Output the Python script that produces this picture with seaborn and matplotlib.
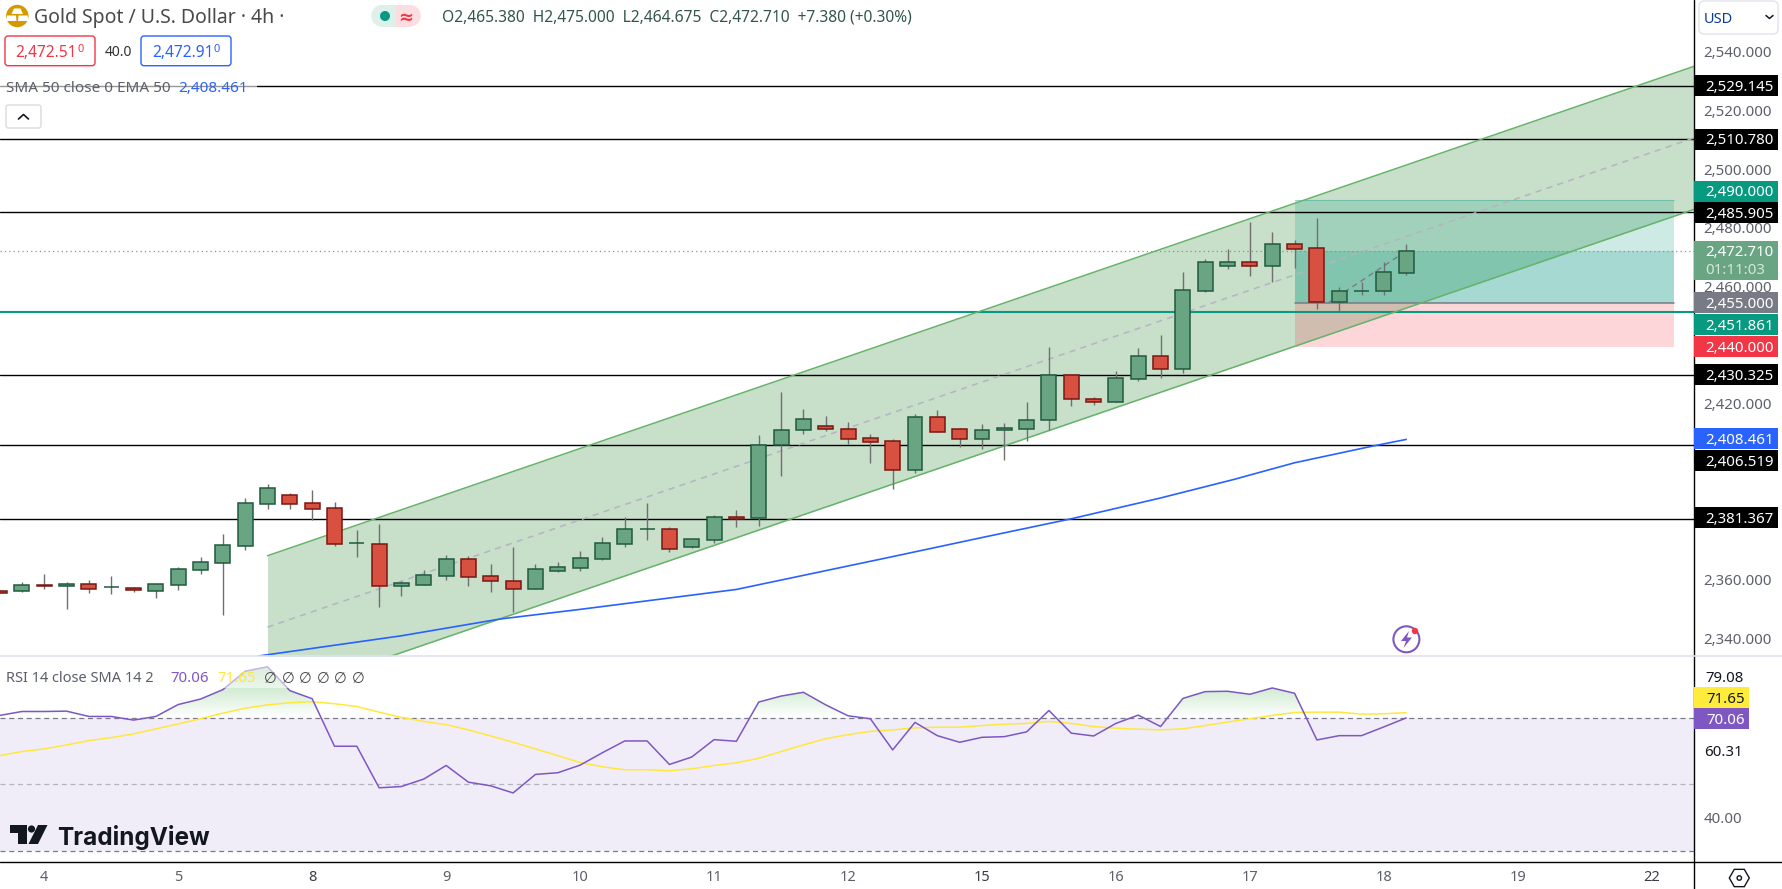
import numpy as np
import pandas as pd
import matplotlib.pyplot as plt
import seaborn as sns
from matplotlib.patches import Circle, FancyBboxPatch, Polygon, Rectangle
from matplotlib.path import Path

# candles, 4h bars
opens = [2356.7, 2356.87, 2358.8, 2358.6, 2359.03, 2358.01, 2357.67, 2356.87, 2358.92, 2364.04, 2366.42, 2372.22,
         2386.54, 2389.39, 2386.66, 2384.95, 2373.02, 2372.67, 2358.58, 2358.92, 2361.99, 2367.56, 2361.76, 2360.06,
         2357.56, 2363.7, 2364.72, 2367.79, 2372.91, 2377.8, 2377.8, 2371.88, 2374.27, 2382.0, 2381.55, 2406.45,
         2411.79, 2413.04, 2411.9, 2408.83, 2407.81, 2397.92, 2416.0, 2411.9, 2408.49, 2411.56, 2412.13, 2414.97,
         2430.32, 2422.13, 2421.34, 2429.18, 2436.8, 2432.59, 2459.2, 2467.72, 2468.86, 2467.72, 2475.0, 2473.64,
         2455.45, 2458.97, 2458.97, 2465.38]
highs = [2357.0, 2359.83, 2362.56, 2359.83, 2360.5, 2361.87, 2358.12, 2359.03, 2364.95, 2368.35, 2376.2, 2388.36,
         2393.25, 2390.18, 2391.21, 2387.11, 2377.56, 2379.61, 2360.28, 2363.92, 2369.04, 2368.7, 2365.97, 2371.77,
         2365.97, 2366.65, 2370.41, 2375.18, 2382.0, 2386.78, 2378.59, 2374.39, 2382.69, 2384.39, 2409.97, 2424.64,
         2418.84, 2416.45, 2414.4, 2410.31, 2408.61, 2417.13, 2418.5, 2412.36, 2413.72, 2413.95, 2421.22, 2439.98,
         2430.32, 2422.93, 2431.68, 2439.64, 2444.08, 2465.56, 2470.0, 2473.41, 2482.62, 2479.2, 2476.48, 2483.98,
         2460.33, 2462.15, 2468.97, 2475.0]
lows = [2356.0, 2356.42, 2357.44, 2350.62, 2356.08, 2355.74, 2356.42, 2354.37, 2357.1, 2362.56, 2348.57, 2370.74,
        2384.73, 2384.73, 2380.97, 2372.1, 2368.35, 2351.3, 2355.05, 2358.92, 2360.5, 2358.46, 2356.42, 2349.5,
        2357.56, 2363.25, 2363.59, 2367.34, 2371.77, 2374.16, 2370.07, 2371.43, 2373.14, 2378.59, 2378.93, 2395.99,
        2410.31, 2411.33, 2406.9, 2400.42, 2391.55, 2397.0, 2410.88, 2405.88, 2405.2, 2401.44, 2407.92, 2411.56,
        2419.86, 2420.32, 2421.34, 2428.39, 2429.52, 2431.12, 2458.74, 2466.59, 2464.2, 2462.15, 2466.93, 2452.94,
        2451.92, 2457.72, 2457.72, 2464.675]
closes = [2356.1, 2358.69, 2358.6, 2359.15, 2357.55, 2358.01, 2357.2, 2359.03, 2364.15, 2366.54, 2372.33, 2386.66,
          2391.77, 2386.54, 2384.84, 2372.9, 2373.02, 2358.58, 2359.37, 2362.1, 2367.56, 2361.65, 2360.28, 2357.56,
          2364.15, 2364.84, 2367.91, 2373.02, 2377.8, 2377.8, 2371.2, 2374.39, 2381.89, 2381.43, 2406.45, 2411.56,
          2415.31, 2412.13, 2408.72, 2407.47, 2397.92, 2416.0, 2410.88, 2408.49, 2411.56, 2412.24, 2414.97, 2430.32,
          2422.36, 2421.34, 2429.3, 2436.8, 2432.59, 2459.31, 2468.86, 2468.86, 2467.72, 2475.0, 2473.52, 2455.45,
          2458.97, 2458.97, 2465.45, 2472.71]

# EMA 50
ema_bars = [11.6, 18, 22.4, 26, 33, 40, 44, 48, 52, 55.3, 58, 61.5, 63]
ema_vals = [2334.6, 2341.5, 2347.2, 2350.5, 2357.3, 2368.5, 2375.0, 2381.4, 2388.5, 2394.85, 2400.5, 2406.2, 2408.461]

# RSI and its SMA
rsi_vals = [70.8, 72.0, 72.0, 72.1, 70.5, 70.5, 69.4, 70.5, 74.1, 75.75, 78.6, 84.15, 85.5, 78.3, 75.85, 61.5,
            61.5, 48.95, 49.35, 51.6, 55.7, 50.65, 49.55, 47.4, 53.0, 53.5, 55.8, 59.55, 63.1, 63.1, 56.0, 58.25,
            63.5, 63.0, 74.85, 76.65, 77.8, 74.0, 70.7, 69.8, 60.4, 68.7, 64.7, 62.7, 64.2, 64.4, 65.85, 72.3,
            65.45, 64.6, 68.4, 70.9, 67.45, 75.95, 78.0, 78.1, 77.2, 79.1, 77.5, 63.4, 64.7, 64.7, 67.35, 70.06]
sma_vals = [58.65, 59.9, 60.7, 61.9, 63.2, 64.1, 65.25, 66.75, 68.25, 69.8, 71.5, 73.0, 74.0, 74.65, 74.95, 74.35,
            73.5, 71.8, 70.2, 69.0, 68.0, 66.45, 64.6, 62.7, 60.7, 58.65, 56.6, 55.3, 54.4, 54.4, 54.1, 54.7,
            55.7, 56.5, 57.85, 59.9, 61.9, 63.8, 65.0, 66.0, 66.45, 67.05, 67.25, 67.25, 67.75, 68.15, 68.4, 69.0,
            68.4, 67.45, 66.95, 66.65, 66.45, 66.75, 67.75, 68.8, 69.8, 70.8, 71.7, 71.8, 71.8, 71.2, 71.3, 71.65]

# price levels and drawings
black_levels = [2529.145, 2510.78, 2485.905, 2430.325, 2406.519, 2381.367]
green_level = 2451.861
last_price = 2472.71
channel_bars = [12, 76]
channel_top = [2368.8, 2536.0]
channel_mid = [2344.45, 2511.6]
channel_low = [2320.1, 2487.2]
target, entry, stop = 2490.0, 2455.0, 2440.0
position_bars = [58, 75]
trade_bars = [59.5, 63]
trade_vals = [2455.0, 2472.71]

price_ticks = [2540, 2520, 2500, 2480, 2460, 2420, 2360, 2340]
day_ticks = [2, 8, 14, 20, 26, 32, 38, 44, 50, 56, 62, 68, 74]
day_labels = ['4', '5', '8', '9', '10', '11', '12', '15', '16', '17', '18', '19', '22']
bold_days = ['8', '15', '22']

UP, UP_EDGE = '#6AA583', '#1F5A3F'
DOWN, DOWN_EDGE = '#D85140', '#7A1712'
TEAL, RED, BLUE, PURPLE, YELLOW = '#089981', '#F23645', '#2962FF', '#7E57C2', '#FFEB3B'
GREY = '#5D606B'

sns.set_theme(style='white')
plt.rcParams['font.family'] = ['Noto Sans', 'DejaVu Sans']

W, H = 1782, 889
AXIS_X, PANE_Y, RSI_TOP, RSI_BOT = 1694, 656, 657, 861.5
fig = plt.figure(figsize=(W / 100, H / 100), dpi=100)
ax = fig.add_axes([0, 1 - PANE_Y / H, AXIS_X / W, PANE_Y / H])
ax_rsi = fig.add_axes([0, 1 - RSI_BOT / H, AXIS_X / W, (RSI_BOT - RSI_TOP) / H])
ov = fig.add_axes([0, 0, 1, 1], zorder=10)
ov.set_xlim(0, W)
ov.set_ylim(H, 0)
ov.axis('off')
ov.patch.set_alpha(0)

bars = np.arange(len(closes))
df = pd.DataFrame({'bar': bars, 'open': opens, 'high': highs, 'low': lows, 'close': closes,
                   'rsi': rsi_vals, 'sma': sma_vals})

# ---- main pane ----
ax.fill_between(channel_bars, channel_low, channel_top, color='#C8DFCA', lw=0, zorder=1)
ax.fill_between(position_bars, entry, target, color=TEAL, alpha=0.2, lw=0, zorder=2)
ax.fill_between(position_bars, entry, last_price, color=TEAL, alpha=0.2, lw=0, zorder=2)
ax.fill_between(position_bars, stop, entry, color=RED, alpha=0.2, lw=0, zorder=2)
ax.plot(position_bars, [target, target], color=TEAL, alpha=0.3, lw=0.8, zorder=2)
ax.plot(position_bars, [entry, entry], color='#787B86', lw=1.1, zorder=3)

for level in black_levels:
    ax.axhline(level, color='black', lw=1.0, zorder=3)
ax.axhline(green_level, color=TEAL, lw=1.5, zorder=3)
ax.axhline(last_price, color=UP, lw=0.9, ls=(0, (1, 2.5)), zorder=3)

ax.plot(channel_bars, channel_top, color='#66B36A', lw=1.1, zorder=4)
ax.plot(channel_bars, channel_low, color='#66B36A', lw=1.1, zorder=4)
ax.plot(channel_bars, channel_mid, color='#B6B3C2', lw=1.1, ls=(0, (4, 3.5)), zorder=4)
ax.plot(trade_bars, trade_vals, color='#787B86', lw=1.0, ls=(0, (4, 3)), zorder=4)

sns.lineplot(x=ema_bars, y=ema_vals, color=BLUE, lw=1.2, ax=ax, estimator=None, sort=False, zorder=4)

up = df['close'] >= df['open']
ax.vlines(df['bar'], df['low'], df['high'], color='#707070', lw=1.0, zorder=5)
ax.bar(df['bar'], (df['close'] - df['open']).abs(), bottom=df[['open', 'close']].min(axis=1), width=0.67,
       color=np.where(up, UP, DOWN), edgecolor=np.where(up, UP_EDGE, DOWN_EDGE), lw=1.1, zorder=6)

ax.set_xlim(0.018, 75.89)
ax.set_ylim(2334.6, 2558.33)
ax.set_xticks([])
ax.yaxis.tick_right()
ax.set_yticks(price_ticks, labels=[f'{p:,.3f}' for p in price_ticks])
ax.tick_params(axis='y', length=0, pad=7, labelsize=10.8, labelcolor=GREY)
for t in ax.get_yticklabels():
    t.set_va('center')
for s in ax.spines.values():
    s.set_visible(False)

# ---- RSI pane ----
ax_rsi.axhspan(30, 70, color=PURPLE, alpha=0.1, lw=0, zorder=1)
grad = np.zeros((64, 2, 4))
grad[..., :3] = (0.30, 0.69, 0.31)
grad[..., 3] = np.linspace(0.45, 0.0, 64)[:, None]
im = ax_rsi.imshow(grad, extent=(0, 76, 70, 86), origin='upper', aspect='auto', zorder=2)
ob = ax_rsi.fill_between(df['bar'], 70, df['rsi'], where=df['rsi'] > 70, interpolate=True, color='none', lw=0)
im.set_clip_path(Path.make_compound_path(*ob.get_paths()), ax_rsi.transData)

ax_rsi.axhline(70, color='#787B86', lw=0.9, ls=(0, (4, 3)), zorder=3)
ax_rsi.axhline(50, color='#B2B5BE', lw=0.9, ls=(0, (4, 3)), zorder=3)
ax_rsi.axhline(30, color='#787B86', lw=0.9, ls=(0, (4, 3)), zorder=3)
sns.lineplot(data=df, x='bar', y='sma', color='#FFE83B', lw=1.1, ax=ax_rsi, zorder=4)
sns.lineplot(data=df, x='bar', y='rsi', color=PURPLE, lw=1.1, ax=ax_rsi, zorder=5)

ax_rsi.set_xlim(0.018, 75.89)
ax_rsi.set_ylim(26.7, 88.45)
ax_rsi.set_xlabel('')
ax_rsi.set_ylabel('')
ax_rsi.yaxis.tick_right()
ax_rsi.set_yticks([40, 60.31], labels=['40.00', '60.31'])
ax_rsi.tick_params(axis='y', length=0, pad=7, labelsize=10.8, labelcolor=GREY)
ax_rsi.get_yticklabels()[1].set_color('#131722')
ax_rsi.set_xticks(day_ticks, labels=day_labels)
ax_rsi.tick_params(axis='x', length=0, pad=6, labelsize=10.5, labelcolor=GREY)
for t in ax_rsi.get_xticklabels():
    if t.get_text() in bold_days:
        t.set_fontweight('bold')
        t.set_color('#3A3D46')
for s in ax_rsi.spines.values():
    s.set_visible(False)


# ---- overlay: frame, price scale, legends ----
def txt(x, y, s, color=GREY, size=10.8, ha='left', **kw):
    return ov.text(x, y, s, color=color, fontsize=size, ha=ha, va='center_baseline', **kw)


def tag(y, s, color, fg='white', height=21, bold=True):
    ov.add_patch(Rectangle((AXIS_X, y - height / 2), 84, height, color=color, lw=0, zorder=3))
    txt(1705, y, s, color=fg, fontweight='semibold' if bold else 'normal', zorder=4)


ov.plot([AXIS_X, AXIS_X], [0, H], color='black', lw=1.0, zorder=2)
ov.plot([0, W], [RSI_BOT, RSI_BOT], color='black', lw=1.0, zorder=2)
ov.plot([0, W], [PANE_Y, PANE_Y], color='#E0E3EB', lw=1.2, zorder=2)

tag(85.3, '2,529.145', 'black')
tag(139, '2,510.780', 'black')
tag(191, '2,490.000', TEAL)
tag(212.3, '2,485.905', 'black')
ov.add_patch(Rectangle((AXIS_X, 241), 84, 39, color=UP, lw=0, zorder=3))
txt(1705, 251, '2,472.710', color='white', fontweight='semibold', zorder=4)
txt(1705, 268, '01:11:03', color='#D5E6DC', zorder=4)
tag(302.7, '2,455.000', '#787B86')
tag(324, '2,451.861', TEAL)
tag(346.7, '2,440.000', RED)
tag(374.5, '2,430.325', 'black')
tag(438.5, '2,408.461', BLUE)
tag(460, '2,406.519', 'black')
tag(517.5, '2,381.367', 'black')

txt(1705, 676.7, '79.08', color='#131722')
ov.add_patch(Rectangle((AXIS_X, 687), 55, 21, color=YELLOW, lw=0, zorder=3))
txt(1706, 697.5, '71.65', color='#131722', zorder=4)
ov.add_patch(Rectangle((AXIS_X, 708), 55, 21, color=PURPLE, lw=0, zorder=3))
txt(1706, 718.5, '70.06', color='white', fontweight='semibold', zorder=4)

# currency selector
ov.add_patch(FancyBboxPatch((1702, 4), 73, 27, boxstyle='round,pad=3,rounding_size=5', fc='white', ec='#E0E3EB', lw=1))
txt(1704, 17.5, 'USD', color='#0B3D91', size=10.5)
ov.plot([1766, 1769.5, 1773], [15.5, 18.5, 15.5], color='#131722', lw=1.1)

# settings hexagon
ang = np.deg2rad(np.arange(0, 360, 60))
ov.add_patch(Polygon(np.c_[1739.3 + 10 * np.cos(ang), 878 + 10 * np.sin(ang)], fc='none', ec='#131722', lw=1))
ov.add_patch(Circle((1739.3, 878), 2.2, fc='none', ec='#131722', lw=1))

# title row
ov.add_patch(Circle((17.3, 16), 11.2, color='#D69A00', lw=0))
ov.add_patch(Polygon([(14, 8.5), (20.5, 8.5), (23, 14), (11.5, 14)], color='white', lw=0))
ov.add_patch(Polygon([(7, 15.5), (16, 15.5), (16.5, 21), (6, 21)], color='white', lw=0))
ov.add_patch(Polygon([(18.5, 15.5), (27.5, 15.5), (28.5, 21), (18, 21)], color='white', lw=0))
txt(34, 16, 'Gold Spot / U.S. Dollar · 4h ·', color='#4A4A4A', size=14)

ov.add_patch(Circle((382, 15.8), 10.8, color='#DDF1EA', lw=0))
ov.add_patch(Rectangle((382, 5), 14, 21.7, color='#DDF1EA', lw=0))
ov.add_patch(Circle((410, 15.8), 10.8, color='#FCDDE2', lw=0))
ov.add_patch(Rectangle((396, 5), 14, 21.7, color='#FCDDE2', lw=0))
ov.add_patch(Circle((385, 16), 5, color=TEAL, lw=0))
txt(406, 15.5, '≈', color=RED, size=13, ha='center', fontweight='bold')

txt(441.7, 16, 'O2,465.380  H2,475.000  L2,464.675  C2,472.710  +7.380 (+0.30%)', color='#33564B', size=11.2)

# bid / ask
ov.add_patch(FancyBboxPatch((5, 36), 90, 29.7, boxstyle='round,pad=0,rounding_size=3', fc='white', ec=RED, lw=1))
txt(15, 51, '2,472.51', color=RED, size=11.2)
txt(77, 48.5, '0', color=RED, size=8)
txt(105, 51, '40.0', color='#333333', size=10)
ov.add_patch(FancyBboxPatch((141, 36), 90, 29.7, boxstyle='round,pad=0,rounding_size=3', fc='white', ec=BLUE, lw=1))
txt(152, 51, '2,472.91', color=BLUE, size=11.2)
txt(214, 48.5, '0', color=BLUE, size=8)

# indicator legend sits on a translucent strip over the 2,529 line
ov.add_patch(Rectangle((0, 75), 257, 21, color='white', alpha=0.6, lw=0))
txt(6, 87, 'SMA 50 close 0 EMA 50', color=GREY, size=11)
txt(178, 87, '2,408.461', color=BLUE, size=11)
ov.add_patch(FancyBboxPatch((6, 105), 35, 23, boxstyle='round,pad=0,rounding_size=2.5', fc='white', ec='#D9DBE0', lw=1))
ov.plot([18.5, 23.5, 28.5], [119, 114.5, 119], color='#131722', lw=1.2)

ov.add_patch(Rectangle((0, 666), 365, 22, color='white', alpha=0.55, lw=0))
txt(6, 677, 'RSI 14 close SMA 14 2', color=GREY, size=10.5)
txt(170, 677, '70.06', color=PURPLE, size=10.8)
txt(217, 677, '71.65', color='#FFE83B', size=10.8)
for nx in [270, 288, 305, 323, 340, 358]:
    txt(nx, 677, '∅', color='#444444', size=10.5, ha='center', family='DejaVu Sans')

# TradingView mark
ov.add_patch(Polygon([(9.6, 825), (27, 825), (27, 844), (18, 844), (18, 833), (9.6, 833)], color='#131722', lw=0))
ov.add_patch(Circle((31.5, 829), 3.6, color='#131722', lw=0))
ov.add_patch(Polygon([(38, 825), (47.5, 825), (38, 844), (28.5, 844)], color='#131722', lw=0))
txt(57, 835, 'TradingView', color='#131722', size=17.5, family='Inter', fontweight='bold')

# lightning badge
ov.add_patch(Circle((1406.4, 639.3), 13, fc='white', ec=PURPLE, lw=1.5))
ov.add_patch(Polygon([(1409, 631), (1401, 641), (1406, 641), (1403.5, 648), (1412, 637.5), (1407, 637.5)],
                     color=PURPLE, lw=0))
ov.add_patch(Circle((1415, 631), 3.2, color=RED, lw=0))

fig.savefig('out.png', dpi=100)
